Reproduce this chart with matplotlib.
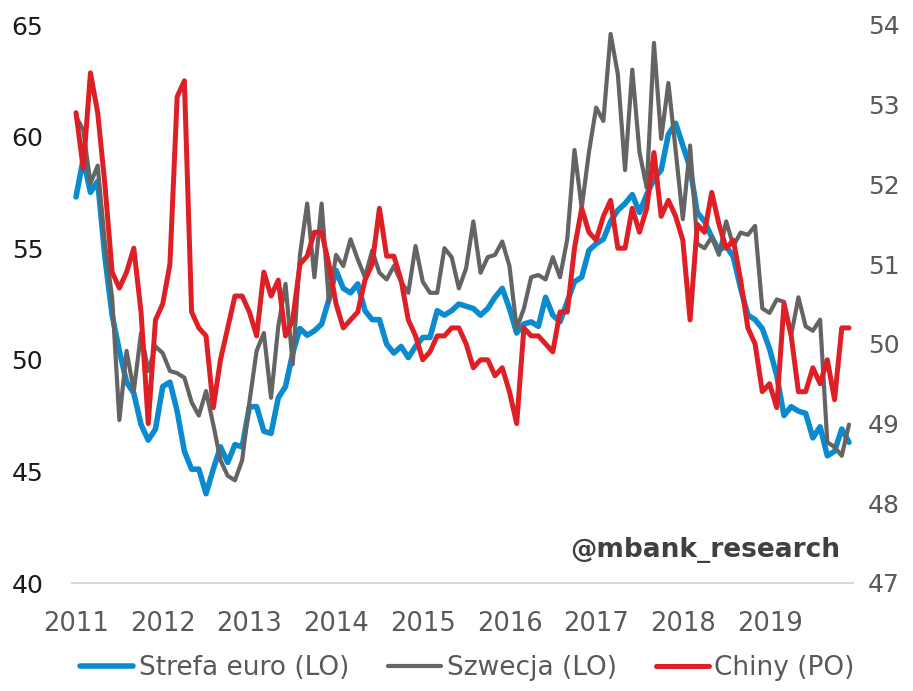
import matplotlib
matplotlib.use("Agg")
import matplotlib.pyplot as plt
import numpy as np

# Monthly data Jan 2011 - Dec 2019
years = ["2011", "2012", "2013", "2014", "2015", "2016", "2017", "2018", "2019"]

strefa_euro = [
    57.3, 59.0, 57.5, 58.0, 54.6, 52.0, 50.4, 49.0, 48.5, 47.1, 46.4, 46.9,
    48.8, 49.0, 47.7, 45.9, 45.1, 45.1, 44.0, 45.1, 46.1, 45.4, 46.2, 46.1,
    47.9, 47.9, 46.8, 46.7, 48.3, 48.8, 50.3, 51.4, 51.1, 51.3, 51.6, 52.7,
    54.0, 53.2, 53.0, 53.4, 52.2, 51.8, 51.8, 50.7, 50.3, 50.6, 50.1, 50.6,
    51.0, 51.0, 52.2, 52.0, 52.2, 52.5, 52.4, 52.3, 52.0, 52.3, 52.8, 53.2,
    52.3, 51.2, 51.6, 51.7, 51.5, 52.8, 52.0, 51.7, 52.6, 53.5, 53.7, 54.9,
    55.2, 55.4, 56.2, 56.7, 57.0, 57.4, 56.6, 57.4, 58.1, 58.5, 60.1, 60.6,
    59.6, 58.6, 56.6, 56.2, 55.5, 54.9, 55.1, 54.6, 53.2, 52.0, 51.8, 51.4,
    50.5, 49.3, 47.5, 47.9, 47.7, 47.6, 46.5, 47.0, 45.7, 45.9, 46.9, 46.3,
]

szwecja = [
    60.9, 60.3, 57.9, 58.7, 55.2, 52.8, 47.3, 50.4, 48.6, 51.2, 49.5, 50.6,
    50.3, 49.5, 49.4, 49.2, 48.1, 47.5, 48.6, 47.1, 45.5, 44.8, 44.6, 45.5,
    48.1, 50.4, 51.2, 48.3, 51.5, 53.4, 49.8, 54.7, 57.0, 53.7, 57.0, 52.6,
    54.7, 54.2, 55.4, 54.5, 53.7, 54.9, 53.9, 53.6, 54.2, 53.5, 53.0, 55.1,
    53.5, 53.0, 53.0, 55.0, 54.6, 53.2, 54.1, 56.2, 53.9, 54.6, 54.7, 55.3,
    54.2, 51.4, 52.3, 53.7, 53.8, 53.6, 54.6, 53.7, 55.4, 59.4, 56.8, 59.3,
    61.3, 60.7, 64.6, 62.8, 58.5, 63.0, 59.3, 57.7, 64.2, 59.9, 62.4, 59.4,
    56.3, 59.6, 55.2, 55.0, 55.5, 54.7, 56.2, 55.1, 55.7, 55.6, 56.0, 52.3,
    52.1, 52.7, 52.6, 51.1, 52.8, 51.5, 51.3, 51.8, 46.3, 46.1, 45.7, 47.1,
]

chiny = [
    52.9, 52.2, 53.4, 52.9, 52.0, 50.9, 50.7, 50.9, 51.2, 50.4, 49.0, 50.3,
    50.5, 51.0, 53.1, 53.3, 50.4, 50.2, 50.1, 49.2, 49.8, 50.2, 50.6, 50.6,
    50.4, 50.1, 50.9, 50.6, 50.8, 50.1, 50.3, 51.0, 51.1, 51.4, 51.4, 51.0,
    50.5, 50.2, 50.3, 50.4, 50.8, 51.0, 51.7, 51.1, 51.1, 50.8, 50.3, 50.1,
    49.8, 49.9, 50.1, 50.1, 50.2, 50.2, 50.0, 49.7, 49.8, 49.8, 49.6, 49.7,
    49.4, 49.0, 50.2, 50.1, 50.1, 50.0, 49.9, 50.4, 50.4, 51.2, 51.7, 51.4,
    51.3, 51.6, 51.8, 51.2, 51.2, 51.7, 51.4, 51.7, 52.4, 51.6, 51.8, 51.6,
    51.3, 50.3, 51.5, 51.4, 51.9, 51.5, 51.2, 51.3, 50.8, 50.2, 50.0, 49.4,
    49.5, 49.2, 50.5, 50.1, 49.4, 49.4, 49.7, 49.5, 49.8, 49.3, 50.2, 50.2,
]

labels = ["Strefa euro (LO)", "Szwecja (LO)", "Chiny (PO)"]

BLUE = "#0B8BCF"
GRAY = "#646464"
RED = "#DE1F26"
TXT = "#595959"

plt.rcParams["font.family"] = ["DejaVu Sans"]

fig = plt.figure(figsize=(9.13, 6.91), dpi=100)
ax = fig.add_axes([72.4 / 913, 1 - 583 / 691, (852.6 - 72.4) / 913, (583 - 25) / 691])
ax2 = ax.twinx()

x = np.arange(len(strefa_euro))
l1, = ax.plot(x, strefa_euro, color=BLUE, lw=4.0, solid_joinstyle="round", solid_capstyle="round", zorder=2)
l2, = ax.plot(x, szwecja, color=GRAY, lw=3.0, solid_joinstyle="round", solid_capstyle="round", zorder=3)
l3, = ax2.plot(x, chiny, color=RED, lw=3.6, solid_joinstyle="round", solid_capstyle="round", zorder=3)

ax.set_xlim(-0.5, len(x) - 0.5)
ax.set_ylim(40, 65)
ax.set_yticks(np.arange(40, 66, 5))
ax2.set_ylim(47, 54)
ax2.set_yticks(np.arange(47, 55, 1))

ax.set_xticks(np.arange(0, len(x), 12))
ax.set_xticklabels(years)

for a in (ax, ax2):
    for s in a.spines.values():
        s.set_visible(False)
ax.spines["bottom"].set_visible(True)
ax.spines["bottom"].set_color("#D9D9D9")
ax.spines["bottom"].set_linewidth(1.5)

ax.tick_params(axis="x", length=0, pad=20, labelsize=18.5, labelcolor=TXT)
ax.tick_params(axis="y", length=0, pad=21, labelsize=18, labelcolor="#1a1a1a")
ax2.tick_params(axis="y", length=0, pad=11, labelsize=18, labelcolor=TXT)

fig.text(840 / 913, 1 - 550 / 691, "@mbank_research", ha="right", va="center",
         fontsize=19, fontweight="bold", color="#404040")

fig.legend([l1, l2, l3], labels, loc="center", bbox_to_anchor=(467.5 / 913, 1 - 668 / 691),
           ncol=3, frameon=False, fontsize=19, labelcolor=TXT,
           handlelength=2.0, handletextpad=0.2, columnspacing=1.5, borderaxespad=0)

fig.savefig("out.png", dpi=100)
